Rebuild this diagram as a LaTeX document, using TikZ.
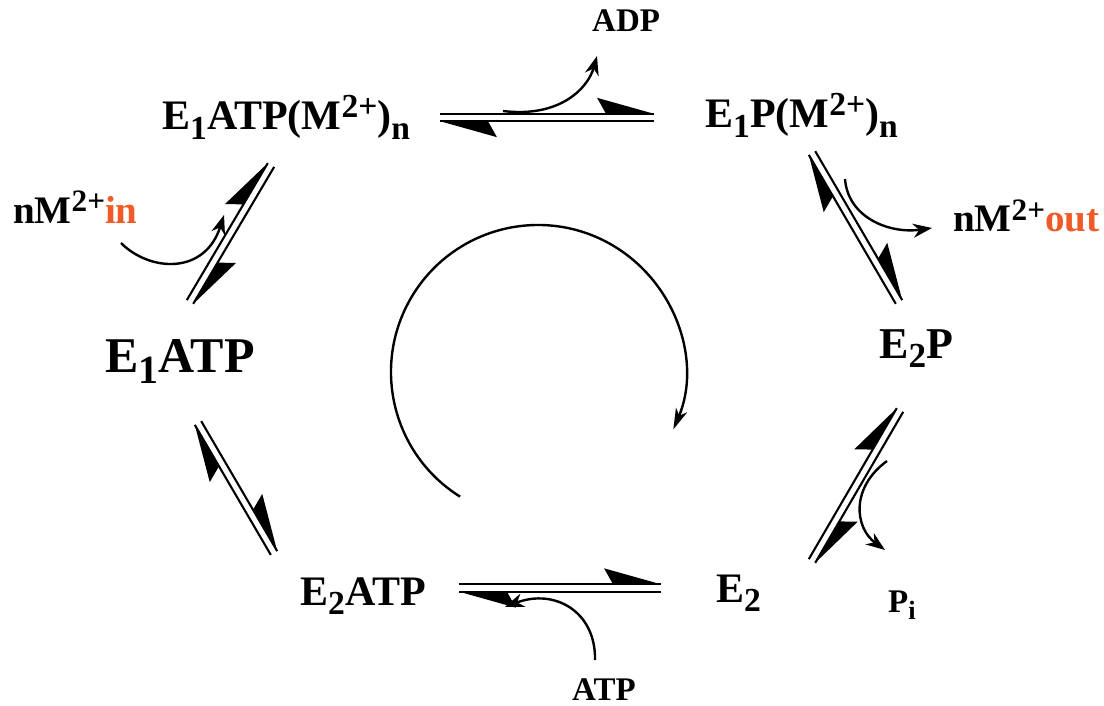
\documentclass[tikz,border=0pt]{standalone}
\usepackage{fontspec}
\usepackage{graphicx}
\setmainfont{Liberation Serif}
\usetikzlibrary{arrows.meta,calc}
\definecolor{ionorange}{RGB}{240,90,40}
\newcommand\lowr[1]{\raisebox{-0.22em}{\scalebox{0.8}{#1}}}
\newcommand\upr[1]{\raisebox{0.3em}{\scalebox{0.8}{#1}}}
\newlength\eqd \setlength\eqd{3.7pt}
\newcommand\eqarrow[2]{%
  \path let \p1=($(#2)-(#1)$) in \pgfextra{%
    \pgfmathsetmacro\eqang{atan2(\y1,\x1)}%
    \pgfmathsetmacro\eqlen{veclen(\x1,\y1)}%
    \xdef\eqang{\eqang}\xdef\eqlen{\eqlen}};
  \begin{scope}[shift={(#1)}, rotate=\eqang]
    \draw[eqline] (0pt,\eqd) -- (\eqlen pt,\eqd);
    \draw[eqline] (0pt,-\eqd) -- (\eqlen pt,-\eqd);
    \fill (\eqlen pt,\eqd) -- (\eqlen pt-57pt,\eqd+16pt)
      .. controls (\eqlen pt-53pt,\eqd+9pt) .. (\eqlen pt-48pt,\eqd) -- cycle;
    \fill (0pt,-\eqd) -- (57pt,-\eqd-16pt)
      .. controls (53pt,-\eqd-9pt) .. (48pt,-\eqd) -- cycle;
  \end{scope}}
\begin{document}
\begin{tikzpicture}[x=1pt,y=-1pt,
  big/.style={font=\fontsize{42}{46}\selectfont\bfseries, inner sep=0pt, anchor=base west},
  bigger/.style={font=\fontsize{50}{54}\selectfont\bfseries, inner sep=0pt, anchor=base west},
  mid/.style={font=\fontsize{39}{42}\selectfont\bfseries, inner sep=0pt, anchor=base west},
  sml/.style={font=\fontsize{33}{36}\selectfont\bfseries, inner sep=0pt, anchor=base west},
  eqline/.style={line width=2.1pt},
  curv/.style={line width=2.4pt, -{Stealth[length=19pt,width=14pt,inset=6pt]}},
  circ/.style={line width=2.4pt, -{Stealth[length=21pt,width=12pt,inset=6pt]}}]
\fill[white] (0,0) rectangle (1104,706);
\useasboundingbox (0,0) rectangle (1104,706);

% species
\node[big] (e1atpm) at (162,130) {E\lowr{1}ATP(M\upr{2+})\lowr{n}};
\node[big] (e1pm) at (705,128) {E\lowr{1}P(M\upr{2+})\lowr{n}};
\node[big,font=\fontsize{44}{48}\selectfont\bfseries] (e2p) at (879,358) {E\lowr{2}P};
\node[big] (e2) at (716,602) {E\lowr{2}};
\node[big] (e2atp) at (300,605) {E\lowr{2}ATP};
\node[bigger] (e1atp) at (105,372) {E\lowr{1}ATP};
% side species
\node[mid] (min) at (13,223) {nM\upr{2+}\textcolor{ionorange}{in}};
\node[mid] (mout) at (953,232) {nM\upr{2+}\textcolor{ionorange}{out}};
\node[sml] (adp) at (592,32) {ADP};
\node[sml] (atp) at (572,700) {ATP};
\node[sml] (pi) at (888,612) {P\lowr{i}};

% equilibrium arrow ends
\coordinate (tA) at (440,117.5);  \coordinate (tB) at (654,117.5);
\coordinate (ruA) at (812,153);   \coordinate (ruB) at (899,302);
\coordinate (rlA) at (900,410);   \coordinate (rlB) at (812,561);
\coordinate (bA) at (661,588);    \coordinate (bB) at (459,588);
\coordinate (llA) at (274,553);   \coordinate (llB) at (198,423);
\coordinate (luA) at (190,302);   \coordinate (luB) at (271,165);

\eqarrow{tA}{tB}
\eqarrow{ruA}{ruB}
\eqarrow{rlA}{rlB}
\eqarrow{bA}{bB}
\eqarrow{llA}{llB}
\eqarrow{luA}{luB}

% side arrows
\coordinate (adpS) at (503,111);  \coordinate (adpE) at (597,56);
\coordinate (outS) at (845,179);  \coordinate (outE) at (932,228);
\coordinate (inS) at (121,243);   \coordinate (inE) at (224,215);
\coordinate (piS) at (887,461);   \coordinate (piE) at (885,550);
\coordinate (atpS) at (595,660);  \coordinate (atpE) at (505,607);
\draw[curv] (adpS) .. controls (560,118) and (588,88) .. (adpE);
\draw[curv] (outS) .. controls (848,218) and (890,234) .. (outE);
\draw[curv] (inS) .. controls (150,272) and (205,275) .. (inE);
\draw[curv] (piS) .. controls (850,488) and (855,528) .. (piE);
\draw[curv] (atpS) .. controls (596,612) and (555,588) .. (atpE);

% central cycle arrow
\coordinate (cyc) at (538,372);
\draw[circ] (cyc) ++(122:147) arc[start angle=122, end angle=383, radius=147];
\end{tikzpicture}
\end{document}
